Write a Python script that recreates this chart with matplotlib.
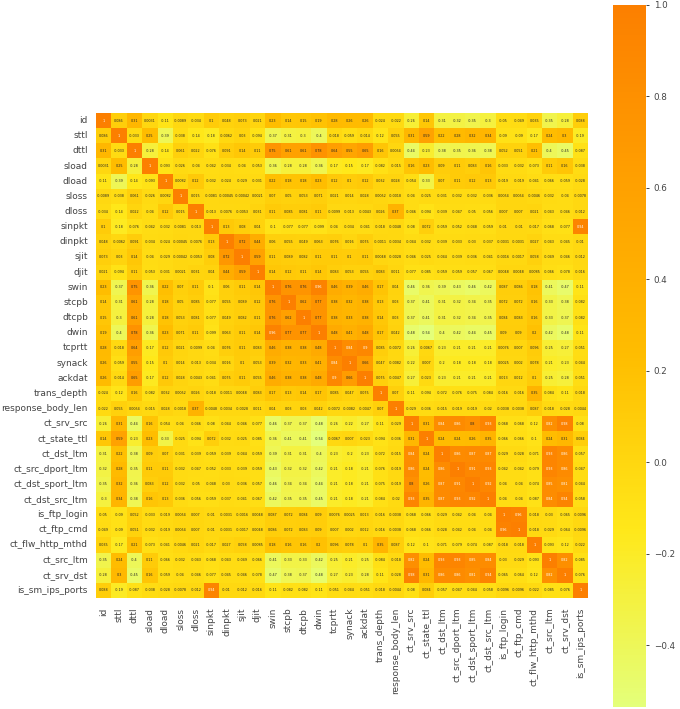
import numpy as np
import matplotlib
matplotlib.use("Agg")
import matplotlib.pyplot as plt
import seaborn as sns

labels = ["id","sttl","dttl","sload","dload","sloss","dloss","sinpkt","dinpkt","sjit","djit","swin","stcpb","dtcpb","dwin","tcprtt","synack","ackdat","trans_depth","response_body_len","ct_srv_src","ct_state_ttl","ct_dst_ltm","ct_src_dport_ltm","ct_dst_sport_ltm","ct_dst_src_ltm","is_ftp_login","ct_ftp_cmd","ct_flw_http_mthd","ct_src_ltm","ct_srv_dst","is_sm_ips_ports"]

upper_rows = [
 [1,.086,.31,.0031,-.11,-.0089,-.034,.1,.048,.073,.021,.23,.14,.15,.19,.28,.26,.26,-.024,-.022,-.26,.14,-.31,-.32,-.35,-.3,-.05,-.049,.035,-.35,-.28,.088],
 [1,-.033,.25,-.39,-.038,-.14,-.18,-.0062,.03,-.094,-.37,-.31,-.3,-.4,-.018,-.059,-.014,-.12,.055,.31,.59,.22,.28,.32,.34,-.09,-.09,-.17,.24,.3,-.19],
 [1,-.28,-.14,.061,.022,-.076,.091,.14,.11,.75,.61,.61,.78,.64,.55,.65,.16,.0054,-.44,-.23,-.38,-.35,-.36,-.38,.052,.051,.21,-.4,-.45,-.087],
 [1,-.093,-.026,-.04,-.042,-.034,-.04,-.053,-.36,-.28,-.28,-.36,-.17,-.15,-.17,-.082,-.015,.16,.23,.09,.11,.083,.16,-.033,-.032,-.073,.11,.16,-.038],
 [1,.0082,.12,-.032,-.024,-.029,-.031,.22,.18,.18,.23,.12,.1,.12,.032,.028,-.054,-.33,.07,.11,.12,.13,-.019,-.019,-.041,-.066,-.059,-.028],
 [1,.015,-.0081,-.00045,-.00042,.0021,.07,.05,.053,.071,.021,.014,.028,.0052,-.0018,-.04,-.025,-.031,-.032,-.032,-.036,.0054,.0054,-.0046,-.032,-.04,-.0078],
 [1,-.013,-.0076,-.0053,.031,.11,.085,.081,.11,-.0099,-.013,-.0043,.026,.37,-.046,-.094,-.039,-.047,-.05,-.056,.007,.007,.021,-.043,-.046,-.012],
 [1,.13,.08,.04,-.1,-.077,-.077,-.099,-.04,-.034,-.041,-.018,-.0048,-.08,.072,-.059,-.052,-.048,-.059,-.01,-.01,-.017,-.068,-.077,.94],
 [1,.72,.44,.06,.055,.049,.063,.076,.016,.075,-.0011,-.0034,-.044,-.032,-.039,-.033,-.03,-.037,-.0031,-.0031,.027,-.043,-.045,-.01],
 [1,.59,.11,.089,.082,.11,.11,.1,.11,.0048,-.0028,-.046,-.025,-.044,-.039,-.036,-.041,-.0016,-.0017,.058,-.049,-.046,-.012],
 [1,.14,.12,.11,.14,.083,.053,.055,.083,.011,-.077,-.085,-.059,-.059,-.057,-.067,.0048,.0048,.0085,-.066,-.078,-.016],
 [1,.76,.76,.96,.46,.39,.46,.17,.04,-.46,-.36,-.39,-.43,-.46,-.42,.087,.086,.18,-.41,-.47,-.11],
 [1,.62,.77,.38,.32,.38,.13,.03,-.37,-.41,-.31,-.32,-.34,-.35,.072,.072,.16,-.33,-.38,-.082],
 [1,.77,.38,.33,.38,.14,.03,-.37,-.41,-.31,-.32,-.34,-.35,.084,.083,.16,-.33,-.37,-.082],
 [1,.48,.41,.48,.17,.042,-.48,-.54,-.4,-.42,-.44,-.45,.09,.09,.2,-.42,-.48,-.11],
 [1,.84,.9,.085,-.0072,-.26,-.0067,-.23,-.21,-.21,-.21,.0076,.007,.096,-.25,-.27,-.051],
 [1,.66,.047,-.0082,-.22,.007,-.2,-.18,-.18,-.18,.0025,.002,.078,-.21,-.23,-.044],
 [1,.075,-.0047,-.27,-.023,-.23,-.21,-.21,-.21,.013,.012,.1,-.25,-.28,-.051],
 [1,.07,-.11,-.094,-.072,-.076,-.075,-.084,-.016,-.016,.35,-.084,-.11,-.018],
 [1,-.029,-.036,-.015,-.019,-.019,-.02,-.0038,-.0038,.087,-.018,-.028,-.0044],
 [1,.31,.84,.86,.8,.93,-.068,-.068,-.12,.82,.98,-.08],
 [1,.24,.24,.26,.35,-.066,-.066,-.1,.24,.31,.084],
 [1,.86,.87,.87,-.029,-.028,-.071,.93,.86,-.057],
 [1,.91,.93,-.042,-.042,-.079,.93,.86,-.047],
 [1,.92,-.04,-.04,-.074,.85,.81,-.044],
 [1,-.04,-.04,-.087,.84,.94,-.058],
 [1,.96,-.018,-.03,-.065,-.0096],
 [1,-.018,-.029,-.064,-.0096],
 [1,-.093,-.12,-.022],
 [1,.82,-.085],
 [1,-.076],
 [1],
]

n = len(labels)
corr = np.zeros((n, n))
for i, row in enumerate(upper_rows):
    corr[i, i:] = row
    corr[i:, i] = row

sns.set_theme(style="white")
plt.rcParams["font.family"] = ["DejaVu Sans"]

W, H = 680, 709
fig = plt.figure(figsize=(W / 100, H / 100), dpi=100)
ax = fig.add_axes([96 / W, 1 - 598 / H, 492 / W, 485 / H])
cax = fig.add_axes([612.5 / W, 1 - 707 / H, 33.5 / W, 702.5 / H])

sns.heatmap(corr, ax=ax, cbar_ax=cax, cmap="Wistia", vmin=-0.535, vmax=1.0,
            annot=True, fmt=".2g", annot_kws={"size": 2.4},
            xticklabels=labels, yticklabels=labels)
ax.tick_params(axis="y", length=0, labelsize=6.5, labelcolor="#444444", pad=5.8)
ax.tick_params(axis="x", length=0, labelsize=6.5, labelcolor="#444444", pad=7)
ax.set_xticklabels(labels, rotation=90)
ax.set_yticklabels(labels, rotation=0)
cax.tick_params(labelsize=6.3, labelcolor="#444444", length=2.5, width=0.7, color="#444444", pad=3, right=True)
cax.set_yticks([-0.4, -0.2, 0, 0.2, 0.4, 0.6, 0.8, 1.0])
fig.savefig("out.png", dpi=100)
